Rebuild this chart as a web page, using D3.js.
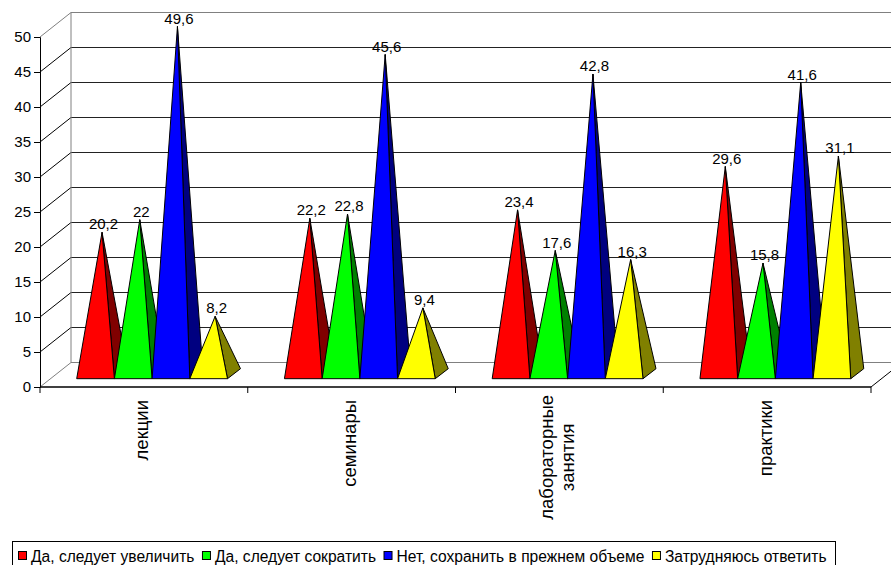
<!DOCTYPE html>
<html><head><meta charset="utf-8">
<script src="https://cdnjs.cloudflare.com/ajax/libs/d3/7.8.5/d3.min.js"></script>
<style>html,body{margin:0;padding:0;background:#fff}svg{display:block}text{font-family:"Liberation Sans",Arial,sans-serif;fill:#000}</style>
</head><body><svg id="c" width="891" height="565"></svg>
<script>
const categories = ["лекции", "семинары", "лабораторные занятия", "практики"];
const seriesNames = ["Да, следует увеличить", "Да, следует сократить", "Нет, сохранить в прежнем объеме", "Затрудняюсь ответить"];
const increase = [20.2, 22.2, 23.4, 29.6];
const reduce = [22, 22.8, 17.6, 15.8];
const keep = [49.6, 45.6, 42.8, 41.6];
const unsure = [8.2, 9.4, 16.3, 31.1];
const frontColors = ["#ff0000", "#00ff00", "#0000ff", "#ffff00"];
const sideColors = ["#800000", "#008000", "#000080", "#808000"];
const yTicks = [0, 5, 10, 15, 20, 25, 30, 35, 40, 45, 50];
const allSeries = [increase, reduce, keep, unsure];

const svg = d3.select("#c");
const W = 891;
const wallDx = 31, wallDy = -24.5, depthDx = 13, depthDy = -10;
const y = d3.scaleLinear().domain([0, 50]).range([387, 37]);
const x0 = d3.scaleBand().domain(categories).range([40, 871]);
const x1 = d3.scaleBand().domain(d3.range(4)).range([36.7, 187.5]);
const baseY = 378.7;

// walls
const walls = svg.append("g").attr("fill", "none");
yTicks.forEach(t => {
  const edge = t === 0 || t === 50;
  const c = edge ? "#808080" : "#000";
  walls.append("line").attr("x1", 40).attr("y1", y(t)).attr("x2", 40 + wallDx).attr("y2", y(t) + wallDy).attr("stroke", c);
  walls.append("line").attr("x1", 40 + wallDx).attr("y1", y(t) + wallDy).attr("x2", W).attr("y2", y(t) + wallDy)
    .attr("stroke", edge ? "#808080" : "#222").attr("stroke-width", edge ? 1 : 1.2);
});
walls.append("line").attr("x1", 40 + wallDx).attr("y1", y(0) + wallDy).attr("x2", 40 + wallDx).attr("y2", y(50) + wallDy).attr("stroke", "#808080");
walls.append("line").attr("x1", 871).attr("y1", y(0)).attr("x2", 871 + wallDx).attr("y2", y(0) + wallDy).attr("stroke", "#000");

// axes
const ax = d3.axisLeft(y).tickValues(yTicks).tickSize(6).tickPadding(3);
const gy = svg.append("g").attr("transform", "translate(40,0)").call(ax);
gy.select(".domain").attr("stroke", "#000");
gy.selectAll("text").text(d => d).attr("font-size", 15).attr("font-family", null);
const gx = svg.append("g").attr("transform", "translate(0,387)");
gx.append("line").attr("x1", 40).attr("x2", 871).attr("stroke", "#000").attr("stroke-width", 1.6);
[...categories.map(c => x0(c)), 871].forEach(v => gx.append("line").attr("x1", v).attr("x2", v).attr("y1", 0).attr("y2", 6).attr("stroke", "#000"));

// pyramids
const pts = a => a.map(p => p.join(",")).join(" ");
categories.forEach((cat, ci) => {
  const g = svg.append("g").attr("stroke", "#000").attr("stroke-linejoin", "round");
  allSeries.forEach((vals, si) => {
    const left = x0(cat) + x1(si), right = left + x1.bandwidth();
    const cx = (left + right) / 2 + depthDx / 2;
    const cy = baseY + depthDy / 2;
    const top = [cx, cy - (y(0) - y(vals[ci]))];
    g.append("polygon").attr("points", pts([[right, baseY], [right + depthDx, baseY + depthDy], top])).attr("fill", sideColors[si]);
    g.append("polygon").attr("points", pts([[left, baseY], [right, baseY], top])).attr("fill", frontColors[si]);
  });
});
// value labels on top of all pyramids
categories.forEach((cat, ci) => {
  allSeries.forEach((vals, si) => {
    const left = x0(cat) + x1(si);
    const cx = left + x1.bandwidth() / 2 + depthDx / 2;
    const cy = baseY + depthDy / 2 - (y(0) - y(vals[ci]));
    svg.append("text").attr("x", cx + 1.5).attr("y", cy - 3).attr("text-anchor", "middle").attr("font-size", 15).text(String(vals[ci]).replace(".", ","));
  });
});

// category labels
categories.forEach(cat => {
  const cx = x0(cat) + x0.bandwidth() / 2;
  const words = cat.split(" ");
  if (words.length === 1) {
    svg.append("text").attr("transform", `translate(${cx + 4.5},400) rotate(-90)`).attr("text-anchor", "end").attr("font-size", 18.5).text(cat);
  } else {
    const first = svg.append("text").attr("transform", `translate(${cx - 6.5},395) rotate(-90)`).attr("text-anchor", "end").attr("font-size", 18.5).text(words[0]);
    const len = first.node().getComputedTextLength();
    svg.append("text").attr("transform", `translate(${cx + 15},${395 + len / 2}) rotate(-90)`).attr("text-anchor", "middle").attr("font-size", 18.5).text(words[1]);
  }
});

// legend
svg.append("rect").attr("x", 12.5).attr("y", 541.5).attr("width", 823).attr("height", 30).attr("fill", "#fff").attr("stroke", "#000");
let lx = 18.5;
seriesNames.forEach((name, i) => {
  svg.append("rect").attr("x", lx).attr("y", 551.5).attr("width", 8).attr("height", 8).attr("fill", frontColors[i]).attr("stroke", "#000");
  const t = svg.append("text").attr("x", lx + 12.5).attr("y", 561.5).attr("font-size", 15.6).text(name);
  lx += 12.5 + t.node().getComputedTextLength() + 8;
});
</script></body></html>
